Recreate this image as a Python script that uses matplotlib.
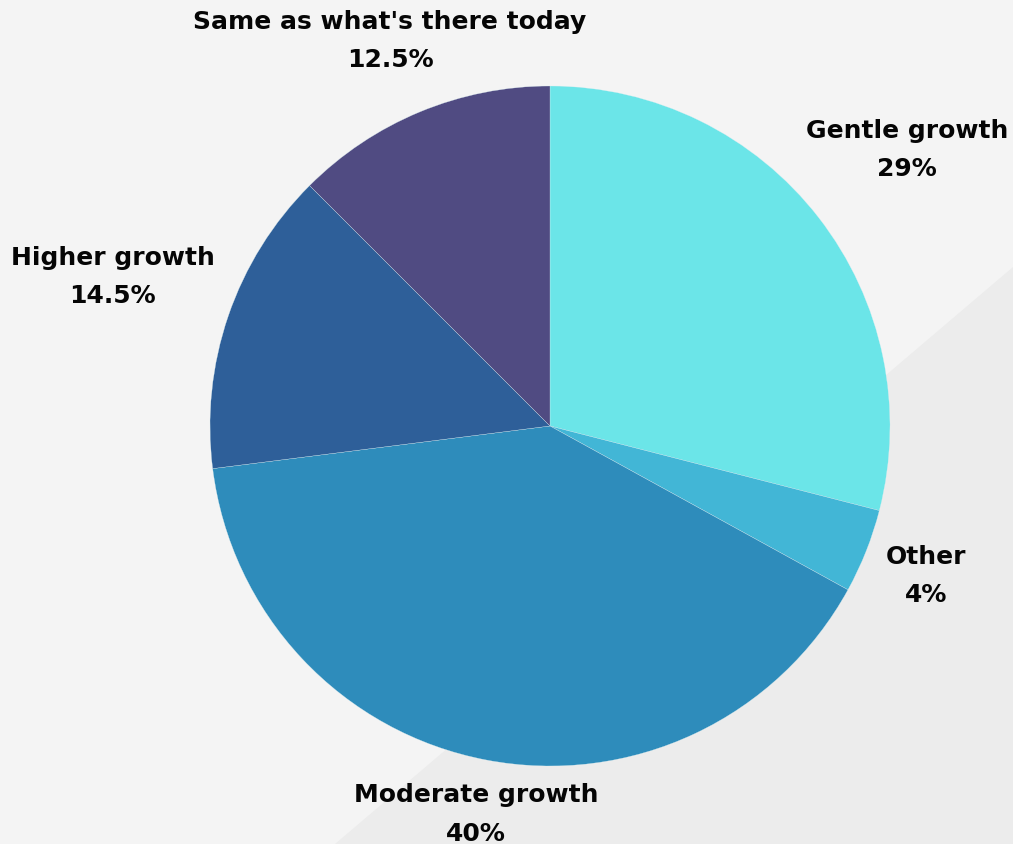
import matplotlib.pyplot as plt
import numpy as np
from matplotlib.patches import Polygon

# survey answers, clockwise from 12 o'clock
labels = ["Gentle growth", "Other", "Moderate growth", "Higher growth",
          "Same as what's there today"]
shares = [29, 4, 40, 14.5, 12.5]
share_text = ["29%", "4%", "40%", "14.5%", "12.5%"]

colors = ["#6be5e8", "#42b6d6", "#2e8cbb", "#2e5f99", "#504b82"]
# how far out each label sits, in pie radii
label_r = [1.33, 1.19, 1.16, 1.36, 1.23]

W, H = 1013, 845
fig = plt.figure(figsize=(W / 100, H / 100), dpi=100)
fig.patch.set_facecolor("#f4f4f4")
ax = fig.add_axes([0, 0, 1, 1])

# darker diagonal band in the lower right
ax.add_patch(Polygon([(335, 0), (W, 577), (W, 0)], closed=True,
                     facecolor="#ececec", edgecolor="none", zorder=0))

cx, cy, R = 550, 418, 340
wedges, _ = ax.pie(shares, colors=colors, startangle=90, counterclock=False,
                   center=(cx, cy), radius=R, frame=True,
                   wedgeprops=dict(linewidth=0.2, edgecolor="#d8eef2"))
ax.set_xlim(0, W)
ax.set_ylim(0, H)
ax.set_aspect("equal")
ax.axis("off")

for w, name, pct, k in zip(wedges, labels, share_text, label_r):
    mid = np.deg2rad((w.theta1 + w.theta2) / 2)
    x = cx + k * R * np.cos(mid)
    y = cy + k * R * np.sin(mid)
    ax.text(x, y, name + "\n" + pct, ha="center", va="center",
            fontsize=18, fontweight="bold", family="DejaVu Sans",
            color="#050505", linespacing=1.75, zorder=5)

fig.savefig("out.png", dpi=100, facecolor=fig.get_facecolor())
